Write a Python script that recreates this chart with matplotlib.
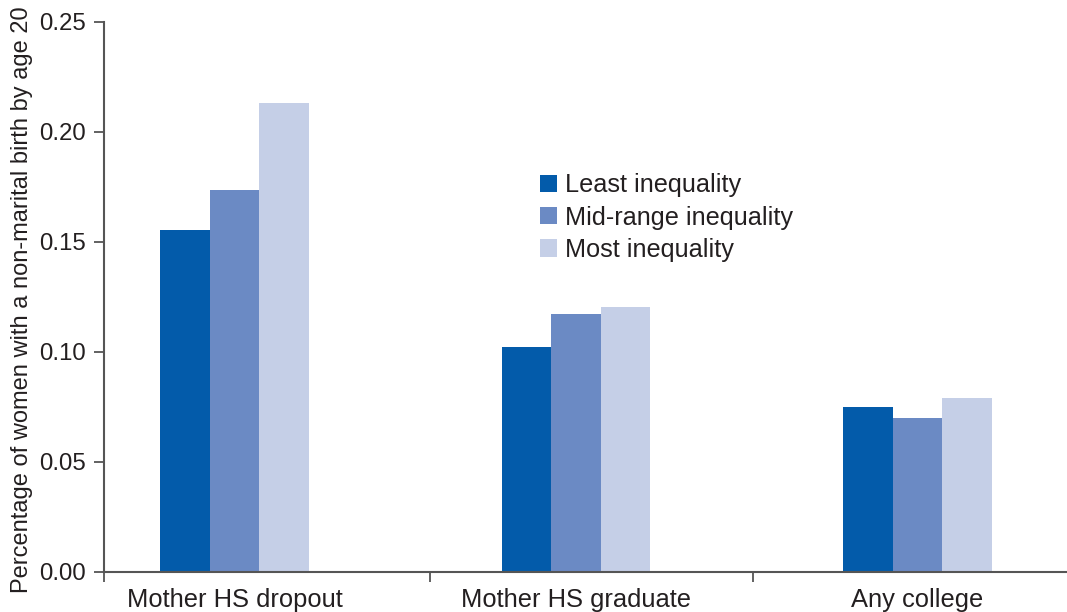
import matplotlib
matplotlib.use("Agg")
import matplotlib.pyplot as plt
import numpy as np

categories = ["Mother HS dropout", "Mother HS graduate", "Any college"]
series_names = ["Least inequality", "Mid-range inequality", "Most inequality"]
least = [0.1555, 0.1023, 0.075]
mid = [0.1736, 0.1173, 0.070]
most = [0.2132, 0.1205, 0.079]
yticks = [0.00, 0.05, 0.10, 0.15, 0.20, 0.25]

colors = ["#035BAA", "#6B8AC4", "#C5CFE7"]
text_color = "#231f20"
spine_color = "#555555"

plt.rcParams['font.family'] = ['Liberation Sans', 'DejaVu Sans']

fig = plt.figure(figsize=(10.67, 6.12), dpi=100)
ax = fig.add_axes([104 / 1067, 1 - 572 / 612, 963 / 1067, 550 / 612])

x = np.arange(len(categories))
w = 0.145
for i, (vals, name) in enumerate(zip([least, mid, most], series_names)):
    ax.bar(x + (i - 1) * w, vals, width=w, color=colors[i], label=name, linewidth=0)

xmin, xmax = -0.382, 2.438
ax.set_xlim(xmin, xmax)
ax.set_ylim(0, 0.25)
ax.set_yticks(yticks)
ax.set_yticklabels(["%.2f" % v for v in yticks])

# divider ticks between groups (and one at the left edge), labels placed by hand
ax.set_xticks([xmin, 0.572, 1.518])
ax.set_xticklabels([])
ax.tick_params(axis='x', direction='out', length=7, width=1.3, color=spine_color)
ax.tick_params(axis='y', direction='out', length=7, width=1.3, color=spine_color,
               labelsize=17.3, labelcolor=text_color, pad=6)
for xi, cat in zip(x, categories):
    ax.text(xi, -0.0072, cat, ha='center', va='top', fontsize=18.4, color=text_color)

for s in ['top', 'right']:
    ax.spines[s].set_visible(False)
for s in ['left', 'bottom']:
    ax.spines[s].set_color(spine_color)
    ax.spines[s].set_linewidth(1.5)

fig.text(22 / 1067, 1 - 300 / 612, "Percentage of women with a non-marital birth by age 20",
         rotation=90, ha='center', va='center', fontsize=17, color=text_color)

leg = ax.legend(loc='upper left', bbox_to_anchor=(0.4528, 0.725), frameon=False,
                fontsize=18.2, handlelength=0.68, handleheight=0.68, handletextpad=0.3,
                labelspacing=0.33, borderpad=0, borderaxespad=0)
for t in leg.get_texts():
    t.set_color(text_color)

fig.savefig("out.png", dpi=100)
